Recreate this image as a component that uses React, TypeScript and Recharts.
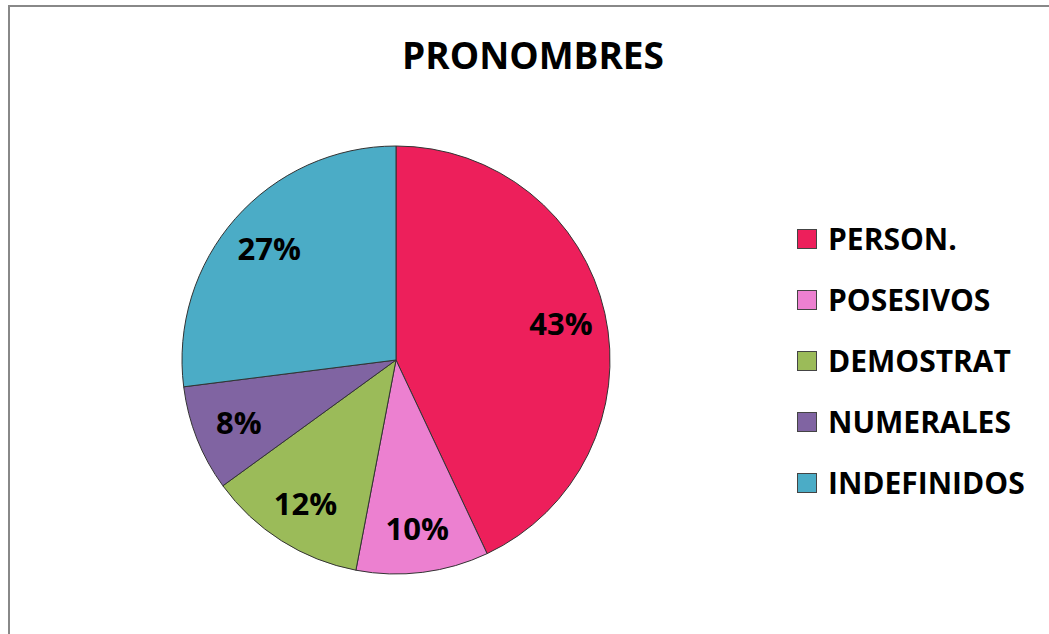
import React from "react";
import { PieChart, Pie, Cell, Legend } from "recharts";

const categories = ["PERSON.", "POSESIVOS", "DEMOSTRAT", "NUMERALES", "INDEFINIDOS"];
const values = [43, 10, 12, 8, 27];
const colors = ["#ED1F5B", "#EC80D0", "#9BBB59", "#8064A2", "#4BACC6"];

const data = categories.map((name, i) => ({ name, value: values[i] }));

const FONT = "'Open Sans', 'Noto Sans', sans-serif";
const RAD = Math.PI / 180;

const renderLabel = (props: any) => {
  const { cx, cy, midAngle, outerRadius, percent } = props;
  const r = outerRadius * 0.79;
  const x = cx + r * Math.cos(-midAngle * RAD);
  const y = cy + r * Math.sin(-midAngle * RAD);
  return (
    <text
      x={x}
      y={y}
      textAnchor="middle"
      dominantBaseline="central"
      fill="#000"
      fontFamily={FONT}
      fontWeight={700}
      fontSize={31}
    >
      {Math.round(percent * 100)}%
    </text>
  );
};

const renderLegend = () => (
  <div style={{ fontFamily: FONT }}>
    {data.map((d, i) => (
      <div
        key={d.name}
        style={{ display: "flex", alignItems: "center", height: 61 }}
      >
        <span
          style={{
            width: 20,
            height: 20,
            background: colors[i],
            border: "1px solid #444",
            boxSizing: "border-box",
            marginRight: 11,
          }}
        />
        <span style={{ fontSize: 30, fontWeight: 700, color: "#000", whiteSpace: "nowrap" }}>{d.name}</span>
      </div>
    ))}
  </div>
);

export default function App() {
  return (
    <div style={{ position: "absolute", left: 0, top: 0, width: 1049, height: 634, overflow: "hidden", background: "#fff" }}>
      <div
        style={{
          position: "absolute",
          left: 8,
          top: 5,
          width: 1100,
          height: 700,
          border: "2px solid #888",
          boxSizing: "border-box",
        }}
      />
      <div
        style={{
          position: "absolute",
          left: 0,
          top: 30,
          width: 1066,
          textAlign: "center",
          fontFamily: FONT,
          fontWeight: 700,
          fontSize: 37,
          lineHeight: "50px",
          color: "#000",
        }}
      >
        PRONOMBRES
      </div>
      <PieChart
        width={1049}
        height={634}
        margin={{ top: 0, right: 0, bottom: 0, left: 0 }}
        style={{ position: "absolute", left: 0, top: 0 }}
      >
        <Pie
          data={data}
          dataKey="value"
          nameKey="name"
          cx={396}
          cy={360}
          outerRadius={214}
          startAngle={90}
          endAngle={-270}
          stroke="#333"
          strokeWidth={1}
          label={renderLabel}
          labelLine={false}
          isAnimationActive={false}
        >
          {data.map((d, i) => (
            <Cell key={d.name} fill={colors[i]} />
          ))}
        </Pie>
        <Legend
          content={renderLegend}
          wrapperStyle={{ left: 797, top: 208, width: 252 }}
        />
      </PieChart>
    </div>
  );
}
